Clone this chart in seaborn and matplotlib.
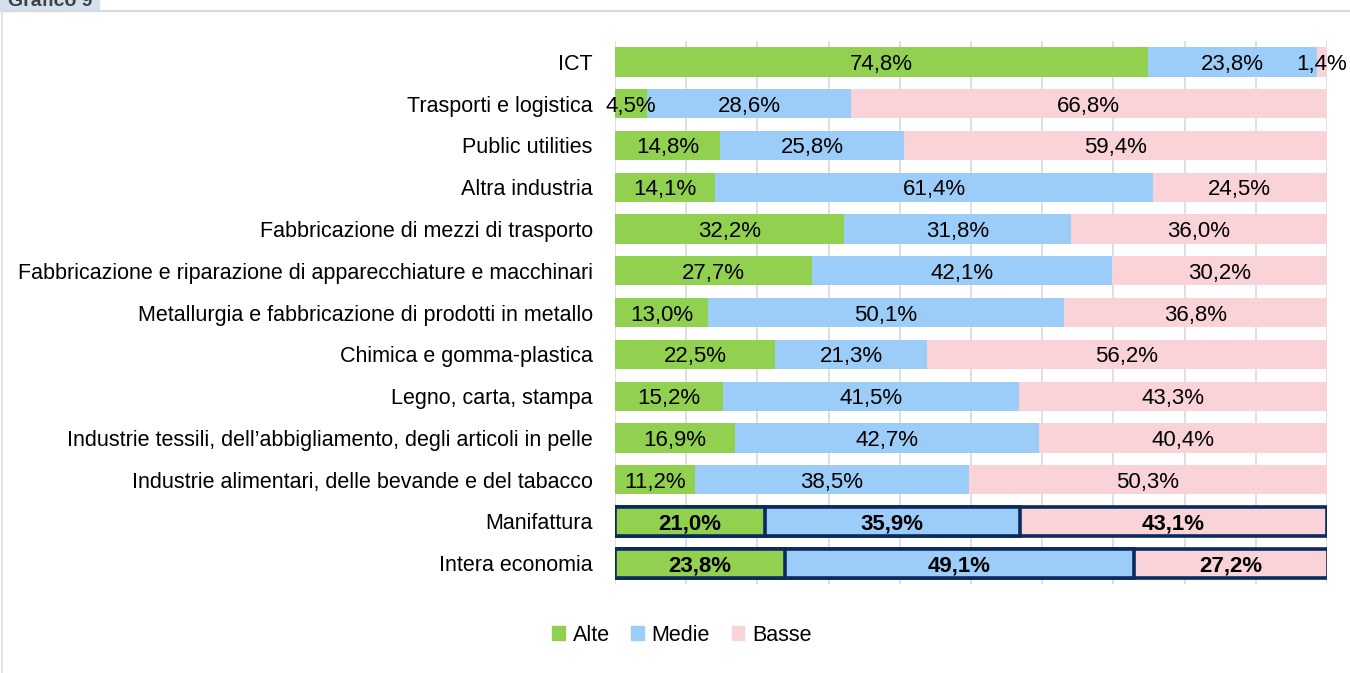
import matplotlib
matplotlib.use("Agg")
import matplotlib.pyplot as plt
import matplotlib.patches as mpatches
import matplotlib.font_manager as fm
import numpy as np
import pandas as pd
import seaborn as sns

# ---- data ----
settori = [
    "ICT",
    "Trasporti e logistica",
    "Public utilities",
    "Altra industria",
    "Fabbricazione di mezzi di trasporto",
    "Fabbricazione e riparazione di apparecchiature e macchinari",
    "Metallurgia e fabbricazione di prodotti in metallo",
    "Chimica e gomma-plastica",
    "Legno, carta, stampa",
    "Industrie tessili, dell\u2019abbigliamento, degli articoli in pelle",
    "Industrie alimentari, delle bevande e del tabacco",
    "Manifattura",
    "Intera economia",
]
alte = [74.8, 4.5, 14.8, 14.1, 32.2, 27.7, 13.0, 22.5, 15.2, 16.9, 11.2, 21.0, 23.8]
medie = [23.8, 28.6, 25.8, 61.4, 31.8, 42.1, 50.1, 21.3, 41.5, 42.7, 38.5, 35.9, 49.1]
basse = [1.4, 66.8, 59.4, 24.5, 36.0, 30.2, 36.8, 56.2, 43.3, 40.4, 50.3, 43.1, 27.2]
serie = ["Alte", "Medie", "Basse"]
evidenziati = ["Manifattura", "Intera economia"]

colori = {"Alte": "#92D050", "Medie": "#9BCDF8", "Basse": "#F9D3D7"}
navy = "#0B2A5E"

names = {f.name for f in fm.fontManager.ttflist}
fam = "Liberation Sans Narrow" if "Liberation Sans Narrow" in names else "Liberation Sans"

sns.set_style("white")
plt.rcParams["font.family"] = [fam, "DejaVu Sans"]

df = pd.DataFrame({"settore": settori, "Alte": alte, "Medie": medie, "Basse": basse})
df["c_alte"] = df["Alte"]
df["c_medie"] = df["Alte"] + df["Medie"]
df["c_basse"] = df["Alte"] + df["Medie"] + df["Basse"]

fig = plt.figure(figsize=(13.5, 6.73), dpi=100)
ax = fig.add_axes([0.4556, 0.132, 0.9830 - 0.4556, 0.939 - 0.132])

# grid (behind)
for g in range(0, 101, 10):
    ax.axvline(g, color="#D9D9D9", lw=1.2, zorder=0)

# stacked bars drawn back to front
for col, s in [("c_basse", "Basse"), ("c_medie", "Medie"), ("c_alte", "Alte")]:
    n_before = len(ax.patches)
    sns.barplot(data=df, y="settore", x=col, orient="h", color=colori[s],
                width=0.7, ax=ax, saturation=1, zorder=2, linewidth=0)
    for p, name in zip(ax.patches[n_before:], settori):
        if name in evidenziati:
            p.set_edgecolor(navy)
            p.set_linewidth(2.6)

# value labels
for i, name in enumerate(settori):
    bold = name in evidenziati
    left = 0
    for s in serie:
        v = df.loc[i, s]
        ax.text(left + v / 2, i, f"{v:.1f}%".replace(".", ","),
                ha="center", va="center_baseline", fontsize=16,
                fontweight="bold" if bold else "normal", color="black", zorder=5)
        left += v

ax.set_xlim(0, 100)
ax.set_ylim(len(settori) - 0.5, -0.5)
ax.set_xlabel("")
ax.set_ylabel("")
ax.set_xticks([])
ax.tick_params(axis="y", length=0, pad=16, labelsize=15.5, labelcolor="black")
for sp in ax.spines.values():
    sp.set_visible(False)

# legend
handles = [mpatches.Patch(color=colori[s], label=s) for s in serie]
fig.legend(handles=handles, loc="center", bbox_to_anchor=(0.505, 0.056), ncol=3,
           frameon=False, fontsize=15.5, handlelength=0.6, handleheight=0.6,
           handletextpad=0.35, columnspacing=1.0, labelcolor="black")

# panel frame and tab
fig.add_artist(plt.Line2D([0, 1], [1 - 11 / 673, 1 - 11 / 673], color="#D9D9D9", lw=1.5))
fig.add_artist(plt.Line2D([2 / 1350, 2 / 1350], [0, 1 - 11 / 673], color="#E3E3E3", lw=1.5))
fig.add_artist(mpatches.Rectangle((0, 1 - 11 / 673), 99 / 1350, 11 / 673,
                                  color="#D3E0EE", transform=fig.transFigure))
fig.text(0.006, 1 - 6 / 673, "Grafico 9", fontsize=14, color="#404040",
         fontweight="bold", va="baseline", ha="left")

fig.savefig("out.png", dpi=100)
